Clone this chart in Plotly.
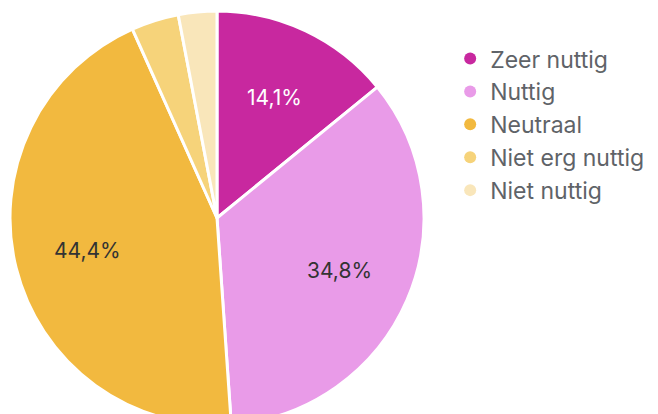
import math
import plotly.graph_objects as go

labels = ["Zeer nuttig", "Nuttig", "Neutraal", "Niet erg nuttig", "Niet nuttig"]
values = [14.1, 34.8, 44.4, 3.7, 3.0]
colors = ["#C8289F", "#E99BE8", "#F2B93F", "#F6D37A", "#F9E6BA"]
text_colors = ["#FFFFFF", "#333333", "#333333", "#333333", "#333333"]

texts = [(f"{v:.1f}".replace(".", ",") + "%") if v >= 10 else "" for v in values]

W, H = 658, 427
T, B = 3, 10
PLOT_H = H - T - B
DOM_X = (2 / 658, 416 / 658)
PIE_R = 205          # rendered radius in px
LABEL_FRAC = 0.65    # data labels sit at 65% of the radius

fig = go.Figure()
fig.add_trace(go.Pie(
    labels=labels, values=values, sort=False, direction="clockwise", rotation=0,
    marker=dict(colors=colors, line=dict(color="white", width=3)),
    textinfo="none",
    hoverinfo="label+percent", showlegend=False,
    domain=dict(x=list(DOM_X), y=[0, 1]),
))
for lab, col in zip(labels, colors):
    fig.add_trace(go.Scatter(
        x=[None], y=[None], mode="markers", name=lab,
        marker=dict(symbol="circle", size=12, color=col),
        showlegend=True,
    ))

# data labels placed at the middle angle of each slice
total = sum(values)
cx = (DOM_X[0] + DOM_X[1]) / 2
cy = 0.5
cum = 0.0
annotations = []
for v, t, tc in zip(values, texts, text_colors):
    mid = (cum + v / 2) / total * 2 * math.pi
    cum += v
    if not t:
        continue
    r = PIE_R * LABEL_FRAC
    annotations.append(dict(
        xref="paper", yref="paper",
        x=cx + r * math.sin(mid) / W, y=cy + r * math.cos(mid) / PLOT_H,
        text=t, showarrow=False, xanchor="center", yanchor="middle",
        font=dict(size=21, color=tc, family="Inter, Roboto, sans-serif"),
    ))

fig.update_layout(
    width=W, height=H,
    margin=dict(l=0, r=0, t=T, b=B),
    paper_bgcolor="white", plot_bgcolor="white",
    xaxis=dict(visible=False), yaxis=dict(visible=False),
    annotations=annotations,
    legend=dict(x=0.672, y=0.937, xanchor="left", yanchor="top",
                font=dict(size=23, color="#5F6368", family="Inter, Roboto, sans-serif"),
                itemwidth=30),
)
fig.write_html("out.html")
